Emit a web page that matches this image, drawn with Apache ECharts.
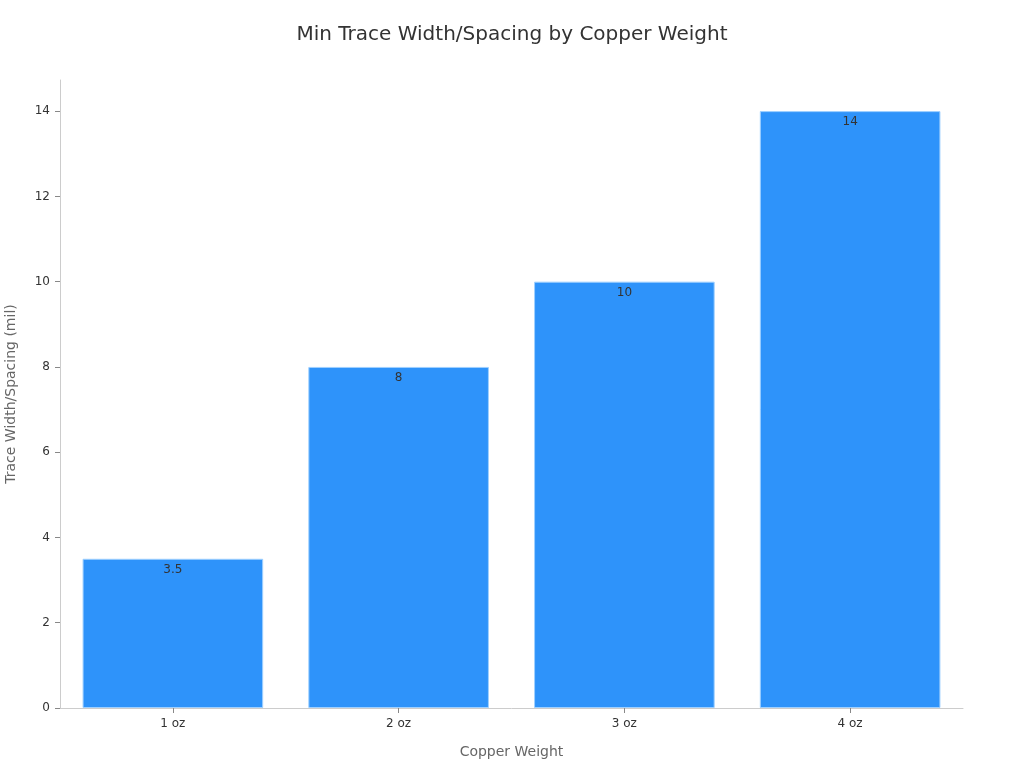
<!DOCTYPE html>
<html>
<head>
<meta charset="utf-8">
<script src="https://cdn.jsdelivr.net/npm/echarts@6/dist/echarts.min.js"></script>
<style>html,body{margin:0;padding:0;background:#fff}#c{width:1024px;height:768px}</style>
</head>
<body>
<div id="c"></div>
<script>
const categories = ['1 oz', '2 oz', '3 oz', '4 oz'];
const values = [3.5, 8, 10, 14];
const yTicks = [0, 2, 4, 6, 8, 10, 12, 14];

const chart = echarts.init(document.getElementById('c'));
chart.setOption({
  backgroundColor: '#ffffff',
  textStyle: { fontFamily: 'DejaVu Sans, sans-serif' },
  title: {
    text: 'Min Trace Width/Spacing by Copper Weight',
    left: 'center',
    top: 20,
    textStyle: { fontSize: 20, fontWeight: 'normal', color: '#333333', fontFamily: 'DejaVu Sans, sans-serif' }
  },
  grid: { left: 60, right: 61, top: 80, bottom: 60, containLabel: false, outerBoundsMode: 'none' },
  xAxis: {
    type: 'category',
    data: categories,
    name: 'Copper Weight',
    nameLocation: 'middle',
    nameGap: 37,
    nameTextStyle: { fontSize: 14, color: '#666666' },
    axisLine: { show: true, lineStyle: { color: '#cccccc' } },
    axisTick: { show: true, alignWithLabel: true, lineStyle: { color: '#888888' } },
    axisLabel: { fontSize: 12, color: '#333333', margin: 10 }
  },
  yAxis: {
    type: 'value',
    min: yTicks[0],
    max: 14.73,
    interval: 2,
    name: 'Trace Width/Spacing (mil)',
    nameLocation: 'middle',
    nameGap: 42,
    nameTextStyle: { fontSize: 14, color: '#666666' },
    axisLine: { show: true, lineStyle: { color: '#cccccc' } },
    axisTick: { show: true, lineStyle: { color: '#888888' } },
    splitLine: { show: false },
    axisLabel: { fontSize: 12, color: '#333333', showMaxLabel: false, margin: 10,
      formatter: v => (yTicks.indexOf(v) >= 0 ? String(v) : '') }
  },
  series: [{
    type: 'bar',
    data: values,
    barWidth: '80%',
    itemStyle: { color: '#2E93FA', borderColor: '#9fd0ff', borderWidth: 1 },
    label: { show: true, position: 'insideTop', fontSize: 12, color: '#333333', distance: 5 }
  }]
});
</script>
</body>
</html>
